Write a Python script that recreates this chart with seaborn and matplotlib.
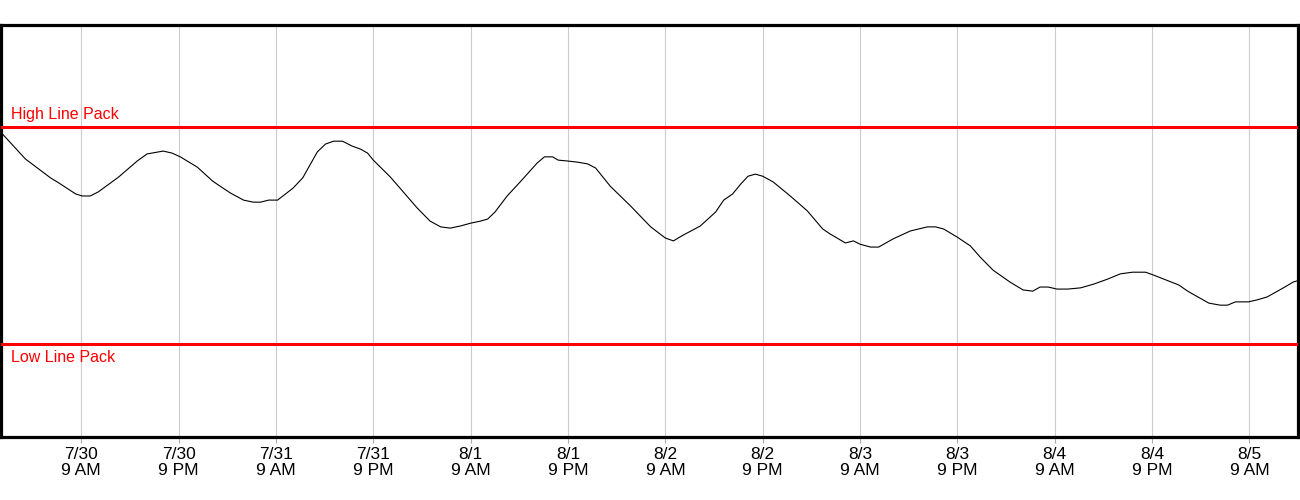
import datetime as dt

import matplotlib
matplotlib.use("Agg")
import matplotlib.dates as mdates
import matplotlib.pyplot as plt
import pandas as pd
import seaborn as sns

# hours measured from 7/30 9 AM, values in % of the chart height
START = dt.datetime(2023, 7, 30, 9, 0)
hours = [
    -9.7, -6.9, -3.8, -2.8, -0.7, 0.1, 1.1, 2.1, 4.6, 6.9, 8.1, 10.1, 11.2, 12.2,
    14.3, 16.2, 17.1, 18.4, 20.0, 21.2, 22.1, 23.1, 24.2, 26.1, 27.3, 29.1, 30.1,
    31.1, 32.2, 33.4, 34.4, 35.3, 36.0, 38.1, 39.6, 41.4, 43.0, 44.3, 45.5, 46.7,
    48.0, 49.2, 50.1, 51.0, 52.5, 54.1, 56.2, 57.1, 58.1, 58.8, 59.9, 61.2, 62.4,
    63.4, 65.2, 67.7, 70.2, 72.0, 73.0, 74.2, 76.3, 78.2, 79.2, 80.3, 81.3, 82.2,
    83.1, 84.0, 85.3, 87.4, 89.5, 91.4, 92.3, 94.2, 95.2, 96.0, 97.3, 98.3, 100.1,
    102.2, 104.3, 105.3, 106.3, 108.0, 109.6, 110.8, 112.4, 114.5, 116.1, 117.3,
    118.2, 119.2, 120.3, 121.6, 123.2, 124.8, 126.5, 128.1, 129.6, 131.2, 132.2,
    134.0, 135.3, 136.4, 139.0, 140.4, 141.3, 142.3, 143.9, 145.0, 146.2, 148.2,
    149.4, 149.9,
]
line_pack = [
    73.5, 67.5, 62.9, 61.7, 59.0, 58.5, 58.5, 59.5, 63.1, 67.0, 68.7, 69.4, 68.9, 68.0,
    65.5, 62.1, 60.9, 59.2, 57.5, 57.0, 57.0, 57.5, 57.5, 60.4, 62.9, 69.2, 71.1,
    71.8, 71.8, 70.6, 69.9, 68.9, 67.2, 63.1, 59.7, 55.6, 52.4, 51.0, 50.7, 51.2,
    51.9, 52.4, 52.9, 54.6, 58.5, 61.9, 66.5, 68.0, 68.0, 67.2, 67.0, 66.7, 66.3,
    65.3, 60.9, 56.1, 51.0, 48.3, 47.6, 49.0, 51.2, 54.6, 57.5, 59.0, 61.4, 63.3,
    63.8, 63.3, 61.9, 58.5, 54.9, 50.5, 49.3, 47.1, 47.6, 46.8, 46.1, 46.1, 48.1,
    50.0, 51.0, 51.0, 50.5, 48.5, 46.4, 43.7, 40.5, 37.6, 35.7, 35.4,
    36.4, 36.4, 35.9, 35.9, 36.2, 37.1, 38.3, 39.6, 40.0, 40.0, 39.3,
    37.9, 36.9, 35.4, 32.5, 32.0, 32.0, 32.8, 32.8, 33.3, 34.0, 36.2,
    37.6, 37.9,
]
HIGH_LINE_PACK = 75.2
LOW_LINE_PACK = 22.6

df = pd.DataFrame({
    "time": [START + dt.timedelta(hours=h) for h in hours],
    "line_pack": line_pack,
})

sns.set_style("white")
plt.rcParams["font.family"] = ["Liberation Sans", "DejaVu Sans"]

fig = plt.figure(figsize=(13, 5), dpi=100)
ax = fig.add_axes([1 / 1300, 1 - 437 / 500, 1297 / 1300, 412 / 500])

ax.axhline(HIGH_LINE_PACK, color="#ff0000", lw=2.2, zorder=3)
ax.axhline(LOW_LINE_PACK, color="#ff0000", lw=2.2, zorder=3)
sns.lineplot(data=df, x="time", y="line_pack", color="black", lw=0.8, ax=ax, zorder=4)

ax.text(0.008, HIGH_LINE_PACK + 1.2, "High Line Pack", color="#ff0000", fontsize=11.5,
        transform=ax.get_yaxis_transform(), va="bottom", ha="left")
ax.text(0.008, LOW_LINE_PACK - 1.5, "Low Line Pack", color="#ff0000", fontsize=11.5,
        transform=ax.get_yaxis_transform(), va="top", ha="left")

ax.set_xlim(START + dt.timedelta(hours=-9.9), START + dt.timedelta(hours=150.0))
ax.set_ylim(0, 100)

ax.xaxis.set_major_locator(mdates.HourLocator(byhour=[9, 21]))


def fmt_tick(x, pos=None):
    d = mdates.num2date(x)
    hr = d.hour % 12 or 12
    ampm = "AM" if d.hour < 12 else "PM"
    return f"{d.month}/{d.day}\n{hr} {ampm}"


ax.xaxis.set_major_formatter(plt.FuncFormatter(fmt_tick))
ax.grid(axis="x", color="#cccccc", lw=0.8)
ax.grid(axis="y", visible=False)
ax.set_yticks([])
ax.set_xlabel("")
ax.set_ylabel("")
ax.tick_params(axis="x", bottom=True, length=4, width=0.8, color="#aaaaaa",
               labelsize=12.5, labelcolor="black", pad=3)
for lbl in ax.get_xticklabels():
    lbl.set_linespacing(1.1)

for s in ax.spines.values():
    s.set_visible(True)
    s.set_color("black")
    s.set_linewidth(2.3)

fig.savefig("out.png", dpi=100)
